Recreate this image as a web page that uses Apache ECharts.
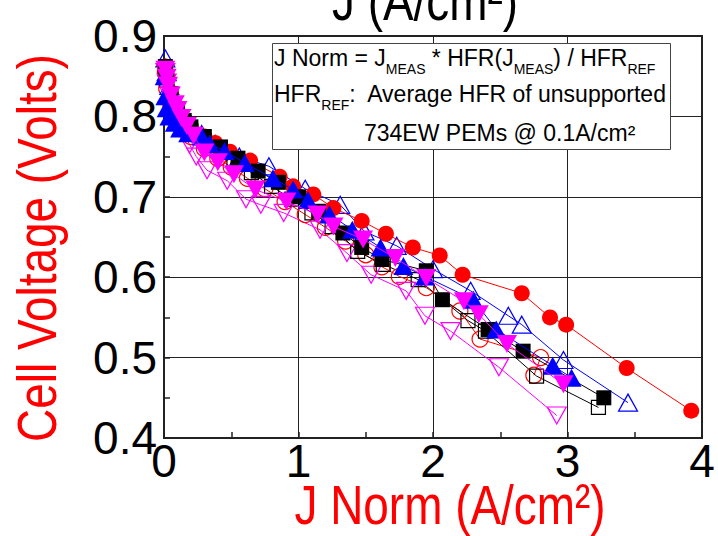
<!DOCTYPE html>
<html><head><meta charset="utf-8">
<script src="https://cdn.jsdelivr.net/npm/echarts@6/dist/echarts.min.js"></script>
<style>html,body{margin:0;padding:0;background:#fff}#c{width:718px;height:536px}</style>
</head><body><div id="c"></div>
<script>
// ---- data ----
const xTicks = [0, 1, 2, 3, 4];
const yTicks = [0.4, 0.5, 0.6, 0.7, 0.8, 0.9];

const redFilledX = [0.01,0.02,0.05,0.08,0.1,0.15,0.2,0.3,0.38,0.49,0.64,0.86,0.96,1.11,1.26,1.47,1.65,1.85,2.05,2.22,2.66,2.87,2.99,3.44,3.92];
const redFilledY = [0.862,0.85,0.83,0.815,0.807,0.795,0.786,0.775,0.767,0.756,0.745,0.725,0.713,0.703,0.686,0.670,0.654,0.637,0.627,0.603,0.58,0.55,0.541,0.487,0.434];

const redOpenX = [0.01,0.02,0.05,0.1,0.15,0.2,0.3,0.4,0.5,0.62,0.75,0.9,1.05,1.2,1.35,1.5,1.62,1.75,1.95,2.2,2.35,2.80,2.75];
const redOpenY = [0.855,0.835,0.815,0.797,0.785,0.775,0.76,0.748,0.737,0.723,0.71,0.694,0.678,0.662,0.645,0.628,0.613,0.601,0.587,0.558,0.523,0.50,0.478];

const blackFilledX = [0.01,0.02,0.05,0.1,0.15,0.2,0.3,0.42,0.55,0.7,0.85,1.0,1.15,1.33,1.47,1.62,1.95,2.07,2.41,2.67,3.27];
const blackFilledY = [0.862,0.848,0.828,0.808,0.795,0.787,0.775,0.762,0.748,0.732,0.718,0.70,0.682,0.655,0.637,0.622,0.608,0.572,0.535,0.508,0.45];

const blackOpenX = [0.01,0.02,0.05,0.1,0.15,0.2,0.3,0.4,0.52,0.65,0.8,0.95,1.1,1.25,1.44,1.63,1.89,2.26,2.39,2.77,3.23];
const blackOpenY = [0.858,0.845,0.825,0.805,0.792,0.782,0.77,0.758,0.745,0.73,0.713,0.697,0.68,0.663,0.632,0.616,0.597,0.546,0.533,0.477,0.438];

const blueFilledX = [0.005,0.01,0.02,0.04,0.08,0.12,0.18,0.28,0.34,0.45,0.6,0.81,0.96,1.07,1.23,1.4,1.61,1.78,1.94,2.30,2.47,2.89,3.03];
const blueFilledY = [0.85,0.825,0.81,0.80,0.792,0.785,0.779,0.775,0.766,0.757,0.742,0.723,0.709,0.696,0.678,0.659,0.637,0.614,0.601,0.572,0.535,0.49,0.475];

const blueOpenX = [0.01,0.02,0.04,0.07,0.1,0.15,0.2,0.28,0.38,0.56,0.78,1.05,1.31,1.49,1.73,2.0,2.28,2.56,2.66,2.97,3.45];
const blueOpenY = [0.872,0.855,0.838,0.822,0.812,0.80,0.79,0.778,0.766,0.75,0.738,0.71,0.69,0.657,0.639,0.61,0.583,0.552,0.541,0.497,0.444];

const magFilledX = [0.01,0.02,0.03,0.05,0.08,0.1,0.13,0.17,0.22,0.3,0.4,0.52,0.68,0.91,1.14,1.26,1.48,1.72,1.95,2.23,2.34,2.55,2.97];
const magFilledY = [0.858,0.848,0.838,0.826,0.815,0.808,0.798,0.788,0.776,0.755,0.743,0.728,0.709,0.694,0.678,0.663,0.647,0.624,0.599,0.570,0.554,0.517,0.467];

const magOpenX = [0.01,0.02,0.04,0.06,0.1,0.14,0.19,0.24,0.32,0.47,0.61,0.72,0.89,1.16,1.36,1.54,1.80,1.94,2.13,2.49,2.92];
const magOpenY = [0.855,0.842,0.826,0.812,0.795,0.78,0.765,0.75,0.733,0.72,0.697,0.69,0.68,0.659,0.630,0.603,0.583,0.552,0.533,0.488,0.428];

// ---- chart ----
const RED = '#ff0000', BLK = '#000000', BLU = '#0000ff', MAG = '#ff00ff';
function pairs(xs, ys) { return xs.map((x, i) => [x, ys[i]]); }
function ser(xs, ys, symbol, size, color, filled, rotate, z) {
  return {
    type: 'line', data: pairs(xs, ys), symbol: symbol, symbolSize: size,
    symbolRotate: rotate || 0, showSymbol: true, z: z, animation: false,
    lineStyle: { color: color, width: 1 },
    itemStyle: filled ? { color: color, borderWidth: 0 }
                      : { color: 'rgba(255,255,255,0)', borderColor: color, borderWidth: 1.2 }
  };
}
const SANS = "'Liberation Sans', Arial, sans-serif";
const NX = 0.82; // horizontal condensing of the large labels

const chart = echarts.init(document.getElementById('c'), null, { renderer: 'svg' });
chart.setOption({
  animation: false,
  backgroundColor: '#fff',
  grid: { left: 164, right: 16, top: 36, bottom: 98, show: true, borderColor: '#222', borderWidth: 2, backgroundColor: 'transparent' },
  xAxis: {
    type: 'value', min: xTicks[0], max: xTicks[xTicks.length - 1], interval: 1,
    axisLine: { show: true, onZero: false, lineStyle: { color: '#222', width: 2 } },
    axisTick: { show: true, inside: true, length: 6, lineStyle: { color: '#222', width: 1.5 } },
    minorTick: { show: true, splitNumber: 2, length: 6, lineStyle: { color: '#222', width: 1.5 } },
    splitLine: { show: true, lineStyle: { color: '#222', width: 1 } },
    axisLabel: { color: '#000', fontSize: 46, fontFamily: SANS, margin: 0 }
  },
  yAxis: {
    type: 'value', min: yTicks[0], max: yTicks[yTicks.length - 1], interval: 0.1,
    axisLine: { show: true, onZero: false, lineStyle: { color: '#222', width: 2 } },
    axisTick: { show: true, inside: true, length: 6, lineStyle: { color: '#222', width: 1.5 } },
    minorTick: { show: true, splitNumber: 2, length: 6, lineStyle: { color: '#222', width: 1.5 } },
    splitLine: { show: true, lineStyle: { color: '#222', width: 1 } },
    axisLabel: { color: '#000', fontSize: 46, fontFamily: SANS, margin: 7, formatter: v => v.toFixed(1) }
  },
  series: [
    ser(redOpenX, redOpenY, 'circle', 16, RED, false, 0, 2),
    ser(blackOpenX, blackOpenY, 'rect', 14, BLK, false, 0, 2),
    ser(blueOpenX, blueOpenY, 'triangle', [19, 17], BLU, false, 0, 2),
    ser(magOpenX, magOpenY, 'triangle', [19, 17], MAG, false, 180, 2),
    ser(redFilledX, redFilledY, 'circle', 16, RED, true, 0, 3),
    ser(blackFilledX, blackFilledY, 'rect', 15, BLK, true, 0, 3),
    ser(blueFilledX, blueFilledY, 'triangle', [20, 18], BLU, true, 0, 4),
    ser(magFilledX, magFilledY, 'triangle', [20, 18], MAG, true, 180, 5)
  ],
  graphic: [
    { type: 'text', x: 425, y: 29, scaleX: NX, z: 10,
      style: { text: 'J (A/cm²)', fill: '#000', font: '56px ' + SANS, textAlign: 'center', textVerticalAlign: 'bottom' } },
    { type: 'text', rotation: Math.PI / 2, x: 9, y: 248, scaleX: NX, z: 10,
      style: { text: 'Cell Voltage (Volts)', fill: RED, font: '56px ' + SANS, textAlign: 'center', textVerticalAlign: 'top' } },
    { type: 'text', x: 450, y: 477, scaleX: NX, z: 10,
      style: { text: 'J Norm (A/cm²)', fill: RED, font: '56px ' + SANS, textAlign: 'center', textVerticalAlign: 'top' } },
    { type: 'rect', shape: { x: 272.5, y: 43.5, width: 398, height: 106 }, z: 10,
      style: { fill: '#fff', stroke: '#444', lineWidth: 1 } },
    { type: 'text', x: 274, y: 46, z: 11,
      style: {
        text: '{n|J Norm = J}{s|MEAS}{n| * HFR(J}{s|MEAS}{n|) / HFR}{s|REF}',
        rich: {
          n: { fontSize: 23, fontFamily: SANS, fill: '#000', lineHeight: 26, verticalAlign: 'top' },
          s: { fontSize: 14, fontFamily: SANS, fill: '#000', lineHeight: 16, padding: [16, 0, 0, 0], verticalAlign: 'top' }
        }
      } },
    { type: 'text', x: 274, y: 82, z: 11,
      style: {
        text: '{n|HFR}{s|REF}{n|:  Average HFR of unsupported}',
        rich: {
          n: { fontSize: 23, fontFamily: SANS, fill: '#000', lineHeight: 26, verticalAlign: 'top' },
          s: { fontSize: 14, fontFamily: SANS, fill: '#000', lineHeight: 16, padding: [16, 0, 0, 0], verticalAlign: 'top' }
        }
      } },
    { type: 'text', x: 364, y: 121, z: 11,
      style: { text: '734EW PEMs @ 0.1A/cm²', fill: '#000', font: '23px ' + SANS } }
  ]
});
</script></body></html>
